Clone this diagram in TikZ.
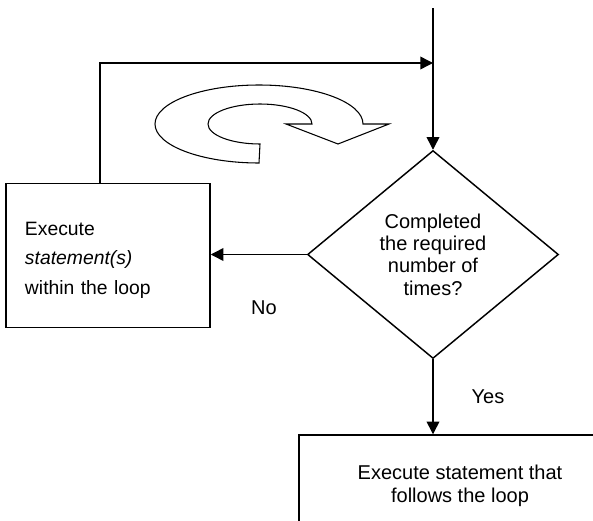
\documentclass[tikz,border=0pt]{standalone}
\usepackage{fontspec}
\setmainfont{Liberation Sans}
\usetikzlibrary{arrows.meta,positioning,shapes.geometric}

\begin{document}
\begin{tikzpicture}[x=0.75pt,y=0.75pt, line width=1.1pt, every node/.style={font=\fontsize{15}{16.8}\selectfont}, box/.style={draw,rectangle,inner sep=0pt}, decide/.style={draw,diamond,inner sep=0pt,align=center,minimum width=188.25pt,minimum height=156pt}, arr/.style={-{Triangle[length=9.5pt,width=9.5pt]}}, loopsym/.style={draw,line width=0.8pt}]
\clip (0,0) rectangle (593,-521);
\node[decide] (cond) at (433,-254.5) {Completed\\the required\\number of\\times?};
\node[box,align=left,text width=124.5pt,inner xsep=14.25pt,minimum height=108pt,font=\fontsize{14.5}{22}\selectfont] (body) at (108,-255.5) {\rule{0pt}{17pt}Execute\\\textit{statement(s)}\\within the loop};
\node[box,align=center,minimum width=241.5pt,minimum height=76.5pt] (after) at (460,-486) {Execute statement that\\follows the loop};
\coordinate (entry) at (433,-8);
\coordinate (merge) at (433,-63);
\node (no) at (264,-308) {No};
\node (yes) at (488,-397) {Yes};
\draw (entry) -- (merge);
\draw[arr] (merge) -- (cond.north);
\draw[arr] ([xshift=-6pt]body.north) |- (merge);
\draw[arr] (cond.west) -- (cond.west -| body.east);
\draw[arr] (cond.south) -- (after.north -| cond.south);
% loop symbol
\draw[loopsym] (259,-163) arc[start angle=270,end angle=0,x radius=104,y radius=39] -- (389,-124) -- (338,-144) -- (286,-124) -- (312,-124) arc[start angle=0,end angle=270,x radius=52,y radius=20] -- cycle;
\end{tikzpicture}
\end{document}
